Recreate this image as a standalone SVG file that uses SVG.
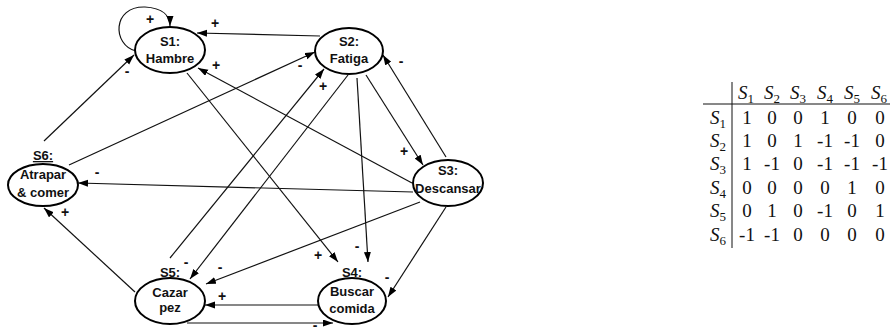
<svg xmlns="http://www.w3.org/2000/svg" width="892" height="333" viewBox="0 0 892 333">
<defs>
<marker id="ah" markerUnits="userSpaceOnUse" markerWidth="11" markerHeight="8" refX="10" refY="3.5" orient="auto">
<path d="M0,0 L10,3.5 L0,7 z" fill="#000"/>
</marker>
<style>
.node ellipse{fill:#fff;stroke:#000;stroke-width:2}
.node text{font-family:"Liberation Sans",Arial,sans-serif;font-weight:bold;font-size:13px;text-anchor:middle;fill:#111}
.edges path,.edges line{stroke:#111;stroke-width:1.2;fill:none;marker-end:url(#ah)}
.sign{font-family:"Liberation Sans",Arial,sans-serif;font-weight:bold;font-size:14px;text-anchor:middle;fill:#111}
.m{font-family:"Liberation Serif","Times New Roman",serif;font-size:19px;text-anchor:middle;fill:#111}
.mi{font-style:italic}
.sub{font-size:13px}
</style>
</defs>
<rect width="892" height="333" fill="#fff"/>

<g class="edges">
<path d="M136,51 C112,45 112,6 145,7 C163,8 170,16 170,26"/>
<line x1="187" y1="73" x2="338" y2="262"/>
<line x1="320" y1="36" x2="197" y2="33"/>
<line x1="366" y1="75" x2="423" y2="165"/>
<line x1="357" y1="78" x2="368" y2="262"/>
<line x1="348" y1="75" x2="190" y2="279"/>
<line x1="412" y1="183" x2="198" y2="68"/>
<line x1="413" y1="192" x2="78" y2="183"/>
<line x1="420" y1="202" x2="206" y2="284"/>
<line x1="446" y1="157" x2="383" y2="55"/>
<line x1="446" y1="207" x2="388" y2="297"/>
<line x1="318" y1="305" x2="205" y2="305"/>
<line x1="187" y1="323" x2="333" y2="323"/>
<line x1="170" y1="258" x2="324" y2="69"/>
<line x1="135" y1="292" x2="44" y2="208"/>
<line x1="44" y1="141" x2="134" y2="55"/>
<line x1="69" y1="165" x2="315" y2="52"/>
</g>

<g id="S1" class="node">
<ellipse cx="170" cy="50" rx="35" ry="23"/>
<text x="170" y="46">S1:</text>
<text x="170" y="63">Hambre</text>
</g>
<g id="S2" class="node">
<ellipse cx="349" cy="51" rx="34" ry="23"/>
<text x="349" y="46">S2:</text>
<text x="349" y="63">Fatiga</text>
</g>
<g id="S3" class="node">
<ellipse cx="448" cy="183" rx="35" ry="23"/>
<text x="448" y="175">S3:</text>
<text x="448" y="193">Descansar</text>
</g>
<g id="S4" class="node">
<ellipse cx="352" cy="301" rx="34" ry="23"/>
<text x="352" y="277">S4:</text>
<text x="352" y="296">Buscar</text>
<text x="352" y="313">comida</text>
</g>
<g id="S5" class="node">
<ellipse cx="170" cy="301" rx="35" ry="23"/>
<text x="170" y="277">S5:</text>
<text x="170" y="297">Cazar</text>
<text x="170" y="312">pez</text>
</g>
<g id="S6" class="node">
<ellipse cx="43" cy="185" rx="35" ry="21"/>
<text x="43" y="160" text-decoration="underline">S6:</text>
<text x="43" y="179">Atrapar</text>
<text x="43" y="197">&amp; comer</text>
</g>

<g id="signs">
<text class="sign" x="150" y="24">+</text>
<text class="sign" x="215" y="28">+</text>
<text class="sign" x="216" y="70">+</text>
<text class="sign" x="127" y="76">-</text>
<text class="sign" x="300" y="70">-</text>
<text class="sign" x="323" y="91">+</text>
<text class="sign" x="401" y="66">-</text>
<text class="sign" x="404" y="156">+</text>
<text class="sign" x="318" y="260">+</text>
<text class="sign" x="357" y="251">-</text>
<text class="sign" x="387" y="282">-</text>
<text class="sign" x="97" y="177">-</text>
<text class="sign" x="65" y="217">+</text>
<text class="sign" x="186" y="267">-</text>
<text class="sign" x="220" y="272">-</text>
<text class="sign" x="222" y="301">+</text>
<text class="sign" x="315" y="330">-</text>
</g>

<g id="matrix">
<line x1="732" y1="82" x2="732" y2="248" stroke="#111" stroke-width="1"/>
<line x1="703" y1="104" x2="890" y2="104" stroke="#111" stroke-width="1"/>
<text class="m" x="746" y="99"><tspan class="mi">S</tspan><tspan class="sub" dy="4">1</tspan></text>
<text class="m" x="772" y="99"><tspan class="mi">S</tspan><tspan class="sub" dy="4">2</tspan></text>
<text class="m" x="798" y="99"><tspan class="mi">S</tspan><tspan class="sub" dy="4">3</tspan></text>
<text class="m" x="825" y="99"><tspan class="mi">S</tspan><tspan class="sub" dy="4">4</tspan></text>
<text class="m" x="852" y="99"><tspan class="mi">S</tspan><tspan class="sub" dy="4">5</tspan></text>
<text class="m" x="879" y="99"><tspan class="mi">S</tspan><tspan class="sub" dy="4">6</tspan></text>

<text class="m" x="718" y="124"><tspan class="mi">S</tspan><tspan class="sub" dy="4">1</tspan></text>
<text class="m" x="718" y="147"><tspan class="mi">S</tspan><tspan class="sub" dy="4">2</tspan></text>
<text class="m" x="718" y="170"><tspan class="mi">S</tspan><tspan class="sub" dy="4">3</tspan></text>
<text class="m" x="718" y="194"><tspan class="mi">S</tspan><tspan class="sub" dy="4">4</tspan></text>
<text class="m" x="718" y="217"><tspan class="mi">S</tspan><tspan class="sub" dy="4">5</tspan></text>
<text class="m" x="718" y="241"><tspan class="mi">S</tspan><tspan class="sub" dy="4">6</tspan></text>

<text class="m" x="747" y="124">1</text><text class="m" x="772" y="124">0</text><text class="m" x="798" y="124">0</text><text class="m" x="825" y="124">1</text><text class="m" x="852" y="124">0</text><text class="m" x="880" y="124">0</text>
<text class="m" x="747" y="147">1</text><text class="m" x="772" y="147">0</text><text class="m" x="798" y="147">1</text><text class="m" x="825" y="147">-1</text><text class="m" x="852" y="147">-1</text><text class="m" x="880" y="147">0</text>
<text class="m" x="747" y="170">1</text><text class="m" x="772" y="170">-1</text><text class="m" x="798" y="170">0</text><text class="m" x="825" y="170">-1</text><text class="m" x="852" y="170">-1</text><text class="m" x="880" y="170">-1</text>
<text class="m" x="747" y="194">0</text><text class="m" x="772" y="194">0</text><text class="m" x="798" y="194">0</text><text class="m" x="825" y="194">0</text><text class="m" x="852" y="194">1</text><text class="m" x="880" y="194">0</text>
<text class="m" x="747" y="217">0</text><text class="m" x="772" y="217">1</text><text class="m" x="798" y="217">0</text><text class="m" x="825" y="217">-1</text><text class="m" x="852" y="217">0</text><text class="m" x="880" y="217">1</text>
<text class="m" x="747" y="241">-1</text><text class="m" x="772" y="241">-1</text><text class="m" x="798" y="241">0</text><text class="m" x="825" y="241">0</text><text class="m" x="852" y="241">0</text><text class="m" x="880" y="241">0</text>
</g>
</svg>
